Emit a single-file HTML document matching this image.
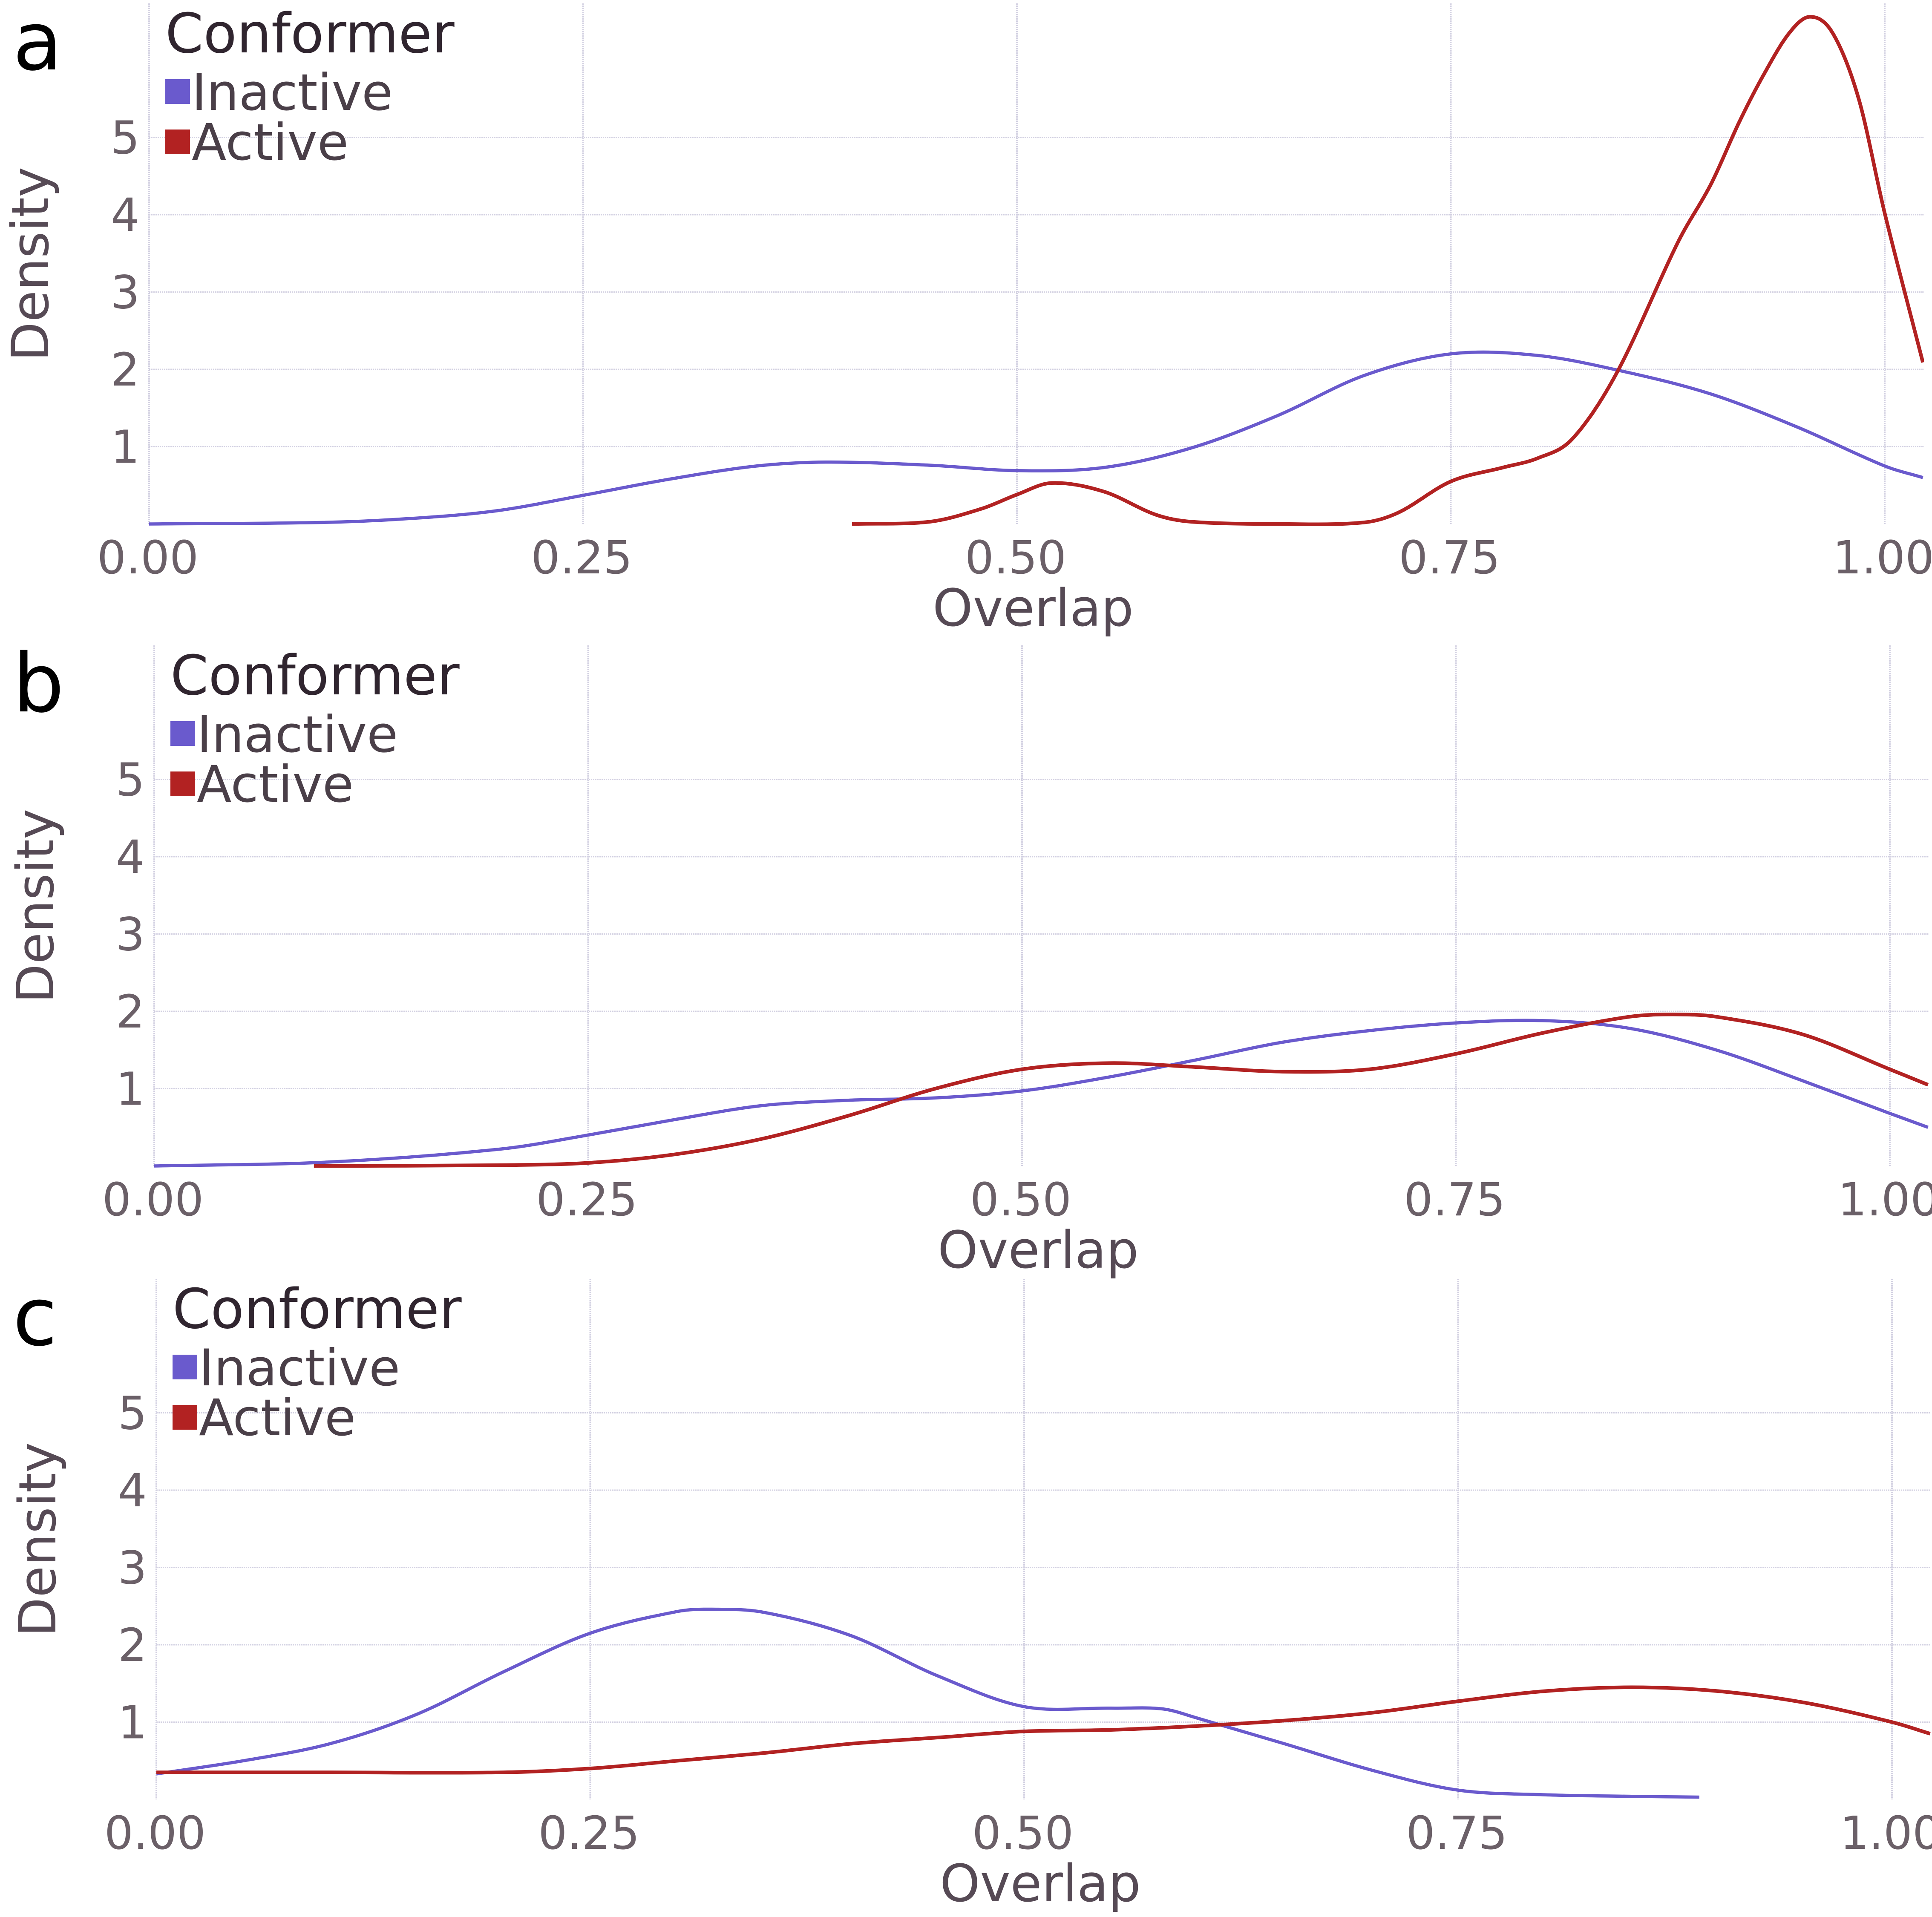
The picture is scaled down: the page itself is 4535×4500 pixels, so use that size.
<!DOCTYPE html>
<html><head><meta charset="utf-8"><style>
html,body{margin:0;padding:0;background:#fff;}
svg{display:block;font-family:"DejaVu Sans","Liberation Sans",sans-serif;}
</style></head><body>
<svg id="chart" width="4535" height="4500" viewBox="0 0 4535 4500" xmlns="http://www.w3.org/2000/svg"></svg>
<script>
// ---- data ----
const xTicks = [0, 0.25, 0.5, 0.75, 1.0];
const xTickLabels = ["0.00", "0.25", "0.50", "0.75", "1.00"];
const yTicks = [1, 2, 3, 4, 5];
const panelLabels = ["a", "b", "c"];
const seriesNames = ["Inactive", "Active"];

const aInactiveX = [0,0.1,0.15,0.2,0.25,0.3,0.35,0.39,0.45,0.5,0.55,0.6,0.65,0.7,0.75,0.8,0.85,0.9,0.95,1.0,1.022];
const aInactiveY = [0,0.02,0.07,0.17,0.37,0.58,0.75,0.8,0.76,0.69,0.73,0.98,1.4,1.92,2.2,2.18,1.97,1.68,1.25,0.75,0.6];
const aActiveX = [0.405,0.45,0.48,0.5,0.52,0.55,0.58,0.6,0.65,0.7,0.72,0.75,0.78,0.8,0.82,0.846,0.881,0.9,0.916,0.93,0.945,0.957,0.97,0.985,1.0,1.022];
const aActiveY = [0,0.03,0.2,0.38,0.53,0.42,0.12,0.03,0,0.02,0.15,0.55,0.73,0.85,1.1,1.97,3.65,4.4,5.19,5.8,6.35,6.56,6.35,5.5,4.02,2.09];

const bInactiveX = [0,0.1,0.2,0.25,0.3,0.35,0.4,0.45,0.5,0.55,0.6,0.65,0.7,0.75,0.8,0.85,0.9,0.95,1.0,1.022];
const bInactiveY = [0,0.05,0.22,0.4,0.6,0.78,0.85,0.88,0.97,1.15,1.37,1.6,1.75,1.85,1.88,1.78,1.5,1.1,0.68,0.5];
const bActiveX = [0.092,0.2,0.25,0.3,0.35,0.4,0.45,0.5,0.55,0.6,0.65,0.7,0.75,0.8,0.85,0.875,0.9,0.95,1.0,1.022];
const bActiveY = [0,0.01,0.04,0.15,0.35,0.65,1.0,1.25,1.33,1.28,1.22,1.25,1.45,1.72,1.93,1.96,1.93,1.7,1.25,1.05];

const cInactiveX = [0,0.05,0.1,0.15,0.2,0.25,0.3,0.32,0.35,0.4,0.45,0.5,0.55,0.58,0.6,0.65,0.7,0.75,0.8,0.85,0.889];
const cInactiveY = [0.33,0.5,0.72,1.1,1.65,2.15,2.43,2.46,2.42,2.12,1.6,1.2,1.18,1.17,1.05,0.72,0.38,0.12,0.06,0.04,0.03];
const cActiveX = [0,0.1,0.2,0.25,0.3,0.35,0.4,0.45,0.5,0.55,0.6,0.65,0.7,0.75,0.8,0.85,0.9,0.95,1.0,1.022];
const cActiveY = [0.35,0.35,0.35,0.4,0.5,0.6,0.72,0.8,0.88,0.9,0.95,1.02,1.12,1.27,1.4,1.45,1.4,1.25,1.0,0.85];

const panelData = [
  [[aInactiveX,aInactiveY],[aActiveX,aActiveY]],
  [[bInactiveX,bInactiveY],[bActiveX,bActiveY]],
  [[cInactiveX,cInactiveY],[cActiveX,cActiveY]]
];
// ---- layout ----
const colors = ["#6a5acd", "#b22222"];
const panelX0 = [350, 362, 367];
const panelY0 = [1230, 2737, 4224];
const xUnit = 4074, yUnit = 181.5;
const NS = "http://www.w3.org/2000/svg";
const svg = document.getElementById("chart");
function mk(tag, attrs, parent){const e=document.createElementNS(NS,tag);for(const k in attrs)e.setAttribute(k,attrs[k]);(parent||svg).appendChild(e);return e;}
function smooth(pts){
  // monotone-ish cubic via centripetal tangents scaled by segment length
  let d="M"+pts[0][0].toFixed(1)+","+pts[0][1].toFixed(1);
  const n=pts.length, m=[];
  for(let i=0;i<n;i++){
    if(i===0) m.push((pts[1][1]-pts[0][1])/(pts[1][0]-pts[0][0]));
    else if(i===n-1) m.push((pts[n-1][1]-pts[n-2][1])/(pts[n-1][0]-pts[n-2][0]));
    else m.push((pts[i+1][1]-pts[i-1][1])/(pts[i+1][0]-pts[i-1][0]));
  }
  for(let i=0;i<n-1;i++){
    const p1=pts[i],p2=pts[i+1],h=(p2[0]-p1[0])/3;
    d+=" C"+(p1[0]+h).toFixed(1)+","+(p1[1]+m[i]*h).toFixed(1)+" "+(p2[0]-h).toFixed(1)+","+(p2[1]-m[i+1]*h).toFixed(1)+" "+p2[0].toFixed(1)+","+p2[1].toFixed(1);
  }
  return d;
}
const defs = mk("defs",{});
panelData.forEach((series,p)=>{
  const x0=panelX0[p], y0=panelY0[p];
  const top=y0-1222, right=Math.min(x0+4166,4535);
  const xs=v=>x0+v*xUnit, ys=v=>y0-v*yUnit;
  const g=mk("g",{});
  
  
  const cp=mk("clipPath",{id:"clip"+p},defs);
  mk("rect",{x:x0-10,y:top,width:right-x0+10,height:y0-top+10},cp);
  yTicks.forEach(t=>{
    const l=mk("line",{x1:x0,x2:right,y1:ys(t),y2:ys(t),stroke:"#d3d1e2","stroke-width":3,"stroke-dasharray":"3 2"},g);
    
    
    const tx=mk("text",{x:x0-22,y:ys(t)+38,"font-size":107,fill:"#6b6068","text-anchor":"end"},g);
    
    
    tx.textContent=t;
  });
  xTicks.forEach((t,i)=>{
    const l=mk("line",{x1:xs(t),x2:xs(t),y1:top,y2:y0,stroke:"#d3d1e2","stroke-width":4,"stroke-dasharray":"3 2"},g);
    
    
    const tx=mk("text",{x:xs(t)-3,y:y0+116,"font-size":107,fill:"#6b6068","text-anchor":"middle"},g);
    
    
    tx.textContent=xTickLabels[i];
  });
  series.forEach((s,k)=>{
    const pts=s[0].map((v,i)=>[xs(v),ys(s[1][i])]);
    const path=mk("path",{d:smooth(pts),fill:"none",stroke:colors[k],"stroke-width":k?8.5:7.5,"clip-path":"url(#clip"+p+")","stroke-linejoin":"round"},g);
    
    
  });
  const xt=mk("text",{x:(x0+right)/2-8,y:y0+239,"font-size":120,fill:"#564a55","text-anchor":"middle"},g);
  
  
  xt.textContent="Overlap";
  const cy=y0-610, cx=x0-237;
  const yt=mk("text",{x:cx,y:cy,"font-size":120,fill:"#564a55","text-anchor":"middle",transform:"rotate(-90 "+cx+" "+cy+")"},g);
  
  
  yt.textContent="Density";
  const pl=mk("text",{x:30,y:y0-1067,"font-size":190,fill:"#000"},g);
  
  
  pl.textContent=panelLabels[p];
  const lt=mk("text",{x:x0+38,y:y0-1107,"font-size":128,fill:"#30252f"},g);
  
  
  lt.textContent="Conformer";
  seriesNames.forEach((n,k)=>{
    const r=mk("rect",{x:x0+38,y:y0-1044+k*118,width:58,height:58,fill:colors[k]},g);
    
    
    const t=mk("text",{x:x0+100,y:y0-972+k*117,"font-size":119,fill:"#4a3f48"},g);
    
    
    t.textContent=n;
  });
});
</script>
</body></html>
